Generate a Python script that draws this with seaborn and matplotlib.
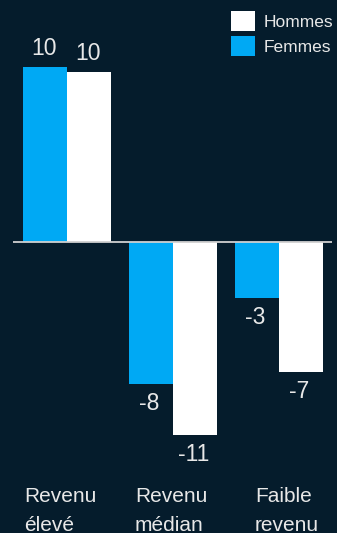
import matplotlib
matplotlib.use("Agg")
import matplotlib.pyplot as plt
import matplotlib.transforms as mtransforms
import seaborn as sns
import pandas as pd

# Income-level groups and the change for each gender
categories = ["Revenu\nélevé", "Revenu\nmédian", "Faible\nrevenu"]
femmes = [10.0, -8.1, -3.2]
hommes = [9.7, -11.0, -7.4]
series = ["Femmes", "Hommes"]

BG = "#051c2c"
BLUE = "#00a9f4"
WHITE = "#ffffff"
TEXT = "#e8e8e8"

sns.set_theme(style="white")
plt.rcParams["font.family"] = ["Liberation Sans", "DejaVu Sans"]

df = pd.DataFrame({
    "categorie": categories * 2,
    "valeur": femmes + hommes,
    "genre": [series[0]] * len(categories) + [series[1]] * len(categories),
})

W, H = 337, 533
fig = plt.figure(figsize=(W / 100, H / 100), dpi=100, facecolor=BG)
ax = fig.add_axes([13 / W, 63 / H, 319 / W, 470 / H])
ax.set_facecolor(BG)

sns.barplot(
    data=df, x="categorie", y="valeur", hue="genre",
    order=categories, hue_order=series,
    palette={"Femmes": BLUE, "Hommes": WHITE},
    saturation=1, width=0.83, gap=0, linewidth=0, ax=ax,
)

# value labels: above positive bars, below negative ones
for container in ax.containers:
    for bar in container:
        v = bar.get_height()
        x = bar.get_x() + bar.get_width() / 2
        off = 5 if v >= 0 else -6
        ax.annotate(f"{v:.0f}", (x, v), xytext=(-1, off), textcoords="offset points",
                    ha="center", va="bottom" if v >= 0 else "top",
                    fontsize=16.5, color=TEXT)

ax.axhline(0, color="#d0d0d0", linewidth=1.3)

ppu = 17.5
ax.set_ylim(-(470 - 242) / ppu, 242 / ppu)
ax.set_xlim(-0.51, 2.5)

ax.set_yticks([])
ax.set_xlabel("")
ax.set_ylabel("")
ax.tick_params(axis="x", length=0, pad=12, labelsize=15, labelcolor=TEXT)

# left-aligned two-line category labels, nudged under each group
shifts_px = [-43, -38, -24]
for lbl, dx in zip(ax.get_xticklabels(), shifts_px):
    lbl.set_horizontalalignment("left")
    lbl.set_multialignment("left")
    lbl.set_linespacing(1.7)
    lbl.set_transform(lbl.get_transform()
                      + mtransforms.ScaledTranslation(dx / 100, 0, fig.dpi_scale_trans))
for s in ax.spines.values():
    s.set_visible(False)

handles, labels = ax.get_legend_handles_labels()
ax.get_legend().remove()
fig.legend(handles[::-1], labels[::-1], loc="upper left",
           bbox_to_anchor=(231 / W, 1 - 11 / H), frameon=False,
           fontsize=12.5, labelcolor=TEXT, handlelength=1.38, handleheight=1.38,
           handletextpad=0.5, labelspacing=0.3, borderpad=0, borderaxespad=0)

fig.savefig("out.png", dpi=100, facecolor=BG)
